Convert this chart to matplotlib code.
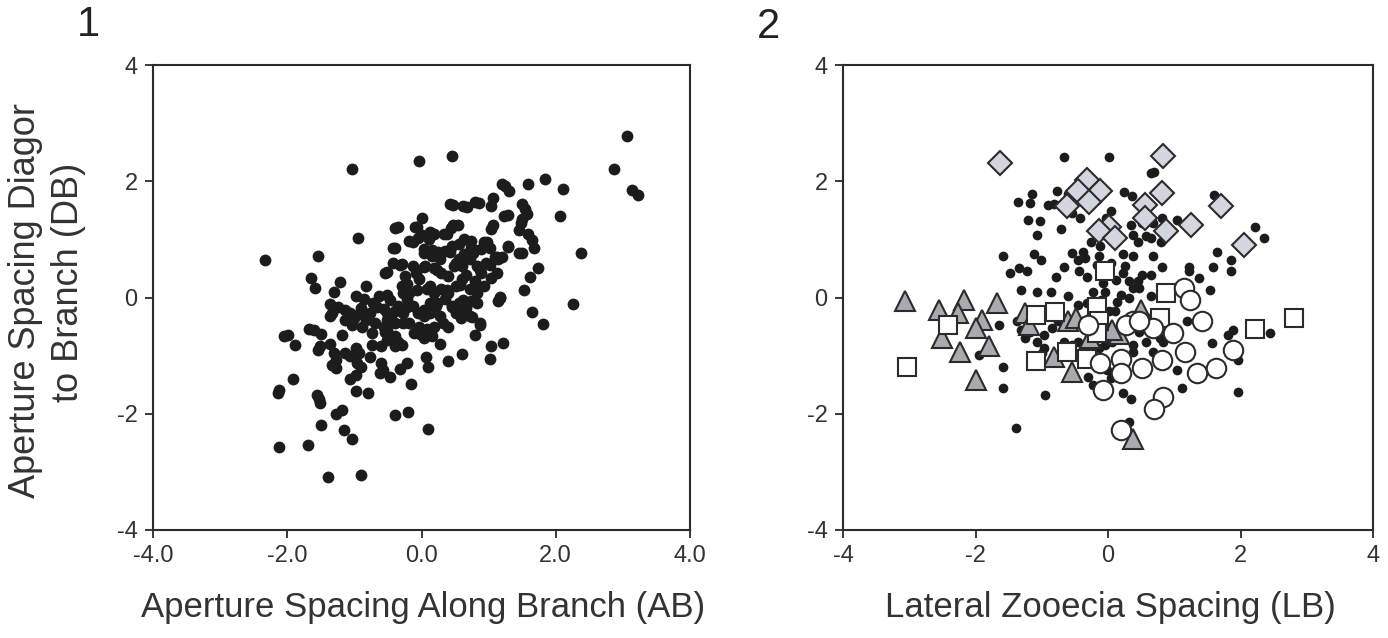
import numpy as np
import matplotlib
matplotlib.use("Agg")
import matplotlib.pyplot as plt

plt.rcParams['font.family'] = ['Liberation Sans', 'DejaVu Sans']
plt.rcParams['axes.unicode_minus'] = False

# ---------------- panel 1: AB vs DB ----------------
ab_db = [
    (3.06, 2.78), (2.87, 2.21), (3.13, 1.85), (3.23, 1.76), (0.46, 2.44), (-0.03, 2.35),
    (-1.04, 2.21), (-2.33, 0.64), (-1.54, 0.71), (-0.94, 1.03), (2.38, 0.76), (2.25, -0.12),
    (1.84, 2.04), (1.59, 1.96), (2.11, 1.87), (2.07, 1.40), (1.20, 1.95), (1.25, 1.92),
    (1.31, 1.84), (1.07, 1.71), (1.04, 1.58), (0.80, 1.64), (0.62, 1.57), (0.43, 1.61),
    (0.47, 1.60), (1.50, 1.61), (1.54, 1.52), (1.57, 1.44), (1.49, 1.35), (1.48, 1.28),
    (1.23, 1.41), (1.07, 1.24), (1.04, 1.18), (0.47, 1.25), (0.44, 1.20), (0.01, 1.36),
    (-0.39, 1.20), (-0.10, 1.22), (0.33, 1.09), (0.12, 1.12), (0.11, 1.00), (1.45, 1.16),
    (1.58, 1.09), (1.64, 0.99), (1.67, 0.85), (1.29, 0.88), (1.45, 0.76), (1.73, 0.51),
    (1.61, 0.36), (1.52, 0.13), (1.09, 0.70), (1.20, 0.70), (0.98, 0.96), (0.73, 0.97),
    (0.74, 0.86), (0.93, 0.95), (0.88, 0.83), (-0.42, 0.85), (-0.19, 0.97), (-0.05, 1.03),
    (-0.42, 0.59), (-0.29, 0.58), (-0.54, 0.43), (-1.65, 0.33), (-1.58, 0.17), (-1.22, 0.26),
    (-1.31, 0.09), (-0.82, 0.19), (-0.97, 0.02), (-0.86, -0.03), (-0.64, 0.03), (-0.51, 0.05),
    (-0.66, -0.17), (-0.56, -0.20), (-1.36, -0.12), (-1.25, -0.16), (-1.33, -0.27), (-1.36, -0.31),
    (-1.14, -0.21), (-1.06, -0.27), (-1.01, -0.35), (-0.93, -0.29), (-0.82, -0.38), (-1.04, -0.47),
    (-1.14, -0.38), (-1.18, -0.64), (-1.99, -0.65), (-2.05, -0.67), (-1.89, -0.81), (-1.68, -0.55),
    (-1.60, -0.56), (-1.49, -0.62), (-1.51, -0.84), (-1.54, -0.90), (-1.36, -0.80), (-1.31, -0.96),
    (-1.28, -1.07), (-1.33, -1.16), (-1.28, -1.22), (-1.14, -0.96), (-1.06, -1.00), (-0.98, -0.87),
    (-0.93, -0.96), (-0.96, -1.13), (-0.90, -1.20), (-0.97, -1.33), (-1.06, -1.41), (-0.74, -0.81),
    (-0.61, -0.84), (-0.77, -1.03), (-0.61, -1.13), (-0.57, -1.24), (-0.62, -1.30), (-0.47, -1.36),
    (-0.54, -0.60), (-0.51, -0.73), (-0.40, -0.67), (-0.35, -0.76), (-0.29, -0.81), (-0.40, -0.84),
    (-0.32, -1.23), (-0.21, -1.13), (-0.16, -1.48), (0.07, -1.03), (0.09, -1.19), (0.27, -0.80),
    (0.39, -1.09), (0.61, -0.97), (0.80, -0.65), (0.87, -0.47), (1.03, -0.83), (1.02, -1.05),
    (1.22, -0.79), (1.14, -0.06), (1.17, 0.01), (1.65, -0.25), (1.81, -0.46), (-1.91, -1.41),
    (-2.13, -1.59), (-2.14, -1.65), (-1.56, -1.68), (-1.53, -1.75), (-1.51, -1.82), (-1.28, -2.01),
    (-1.18, -1.93), (-1.50, -2.20), (-1.16, -2.28), (-1.04, -2.44), (-0.39, -2.03), (-0.20, -1.97),
    (0.09, -2.26), (-0.80, -1.65), (-0.97, -1.61), (-2.12, -2.57), (-1.69, -2.54), (-1.39, -3.09),
    (-0.90, -3.06),
    # dense middle
    (0.03, 0.77), (0.16, 0.71), (0.27, 0.66), (0.05, 0.54), (0.19, 0.51), (0.29, 0.43),
    (0.40, 0.37), (0.48, 0.54), (0.56, 0.66), (0.64, 0.74), (0.72, 0.66), (0.82, 0.54),
    (0.88, 0.43), (0.80, 0.28), (0.72, 0.14), (0.61, 0.31), (0.51, 0.20), (0.40, 0.08),
    (0.29, 0.14), (0.19, 0.08), (0.08, 0.14), (-0.03, 0.31), (-0.08, 0.43), (-0.13, 0.54),
    (-0.24, 0.37), (-0.29, 0.20), (-0.27, 0.08), (-0.21, -0.03), (-0.13, -0.15), (-0.05, -0.27),
    (0.03, -0.32), (0.13, -0.27), (0.21, -0.15), (0.27, -0.32), (0.19, -0.50), (0.08, -0.55),
    (-0.03, -0.50), (-0.11, -0.61), (0.03, -0.70), (0.16, -0.67), (-0.19, -0.44), (-0.27, -0.27),
    (-0.35, -0.15), (-0.40, -0.24), (-0.19, 0.08), (0.13, -0.09), (0.35, -0.03), (0.45, -0.15),
    (0.56, -0.09), (0.66, -0.18), (0.74, -0.06), (0.72, -0.32), (0.59, -0.35), (0.51, -0.27),
    (0.40, -0.50), (0.32, -0.44), (-0.51, -0.38), (-0.45, -0.32), (0.82, 0.08), (0.93, 0.20),
    (1.04, 0.34), (1.12, 0.43), (1.14, 0.66), (0.96, 0.60), (0.61, 0.54), (0.35, 0.80),
    (0.45, 0.89), (0.56, 0.92), (0.64, 1.00), (0.77, 0.77), (0.03, 0.84), (0.13, 0.77),
    (0.24, 0.78), (-0.77, -0.27), (-0.69, -0.44), (-0.88, -0.50), (-0.74, -0.61), (-0.56, -0.50),
    (-0.40, -0.44), (-0.51, -0.27), (-0.72, -0.09), (-0.90, -0.18),
    (0.68, 1.56), (0.85, 1.62), (1.29, 1.42), (-0.35, 1.22), (-0.07, 1.22), (0.00, 1.08),
    (0.18, 1.10), (0.38, 1.10), (0.55, 1.25), (-0.12, 0.96), (-0.39, 0.85), (0.15, 0.82),
    (0.42, 0.79), (0.72, 0.96), (0.80, 0.82), (1.02, 0.85), (1.12, 0.70), (1.29, 0.87),
    (1.49, 0.76), (-0.52, 0.44), (-0.32, 0.56), (0.03, 0.53), (0.23, 0.47), (0.52, 0.59),
    (0.67, 0.39), (0.87, 0.47), (1.02, 0.56), (-0.22, 0.24), (-0.07, 0.13), (0.13, 0.19),
    (0.38, 0.13), (0.57, 0.22), (0.80, 0.16), (-0.47, -0.04), (-0.22, -0.16), (0.03, -0.22),
    (0.23, -0.10), (0.45, -0.16), (0.62, -0.04), (0.82, -0.10), (1.17, -0.01), (-0.52, -0.56),
    (-0.27, -0.44), (-0.02, -0.62), (0.62, -0.27), (0.75, -0.33), (0.87, -0.44),
]
ab = [p[0] for p in ab_db]
db = [p[1] for p in ab_db]

# ---------------- panel 2: LB vs DB, groups ----------------
dots_lb_db = [
    (-0.67, 2.41), (0.02, 2.41), (0.65, 2.14), (0.70, 2.16), (-1.36, 1.64), (-1.14, 1.78),
    (-1.17, 1.63), (-0.91, 1.60), (-0.82, 1.61), (-0.77, 1.83), (-0.61, 1.78), (0.24, 1.81),
    (0.36, 1.74), (-1.21, 1.34), (-1.03, 1.31), (-1.07, 1.08), (-0.71, 1.17), (-0.55, 1.45),
    (-0.43, 1.37), (0.04, 1.48), (-0.03, 1.37), (0.34, 1.25), (0.52, 1.28), (0.68, 1.28),
    (0.81, 1.37), (1.04, 1.34), (0.37, 1.08), (0.57, 1.05), (0.65, 1.02), (1.60, 1.77),
    (2.22, 1.22), (2.36, 1.03), (1.65, 0.79), (1.86, 0.65), (1.86, 0.45), (1.59, 0.53),
    (1.22, 0.53), (1.22, 0.45), (1.37, 0.33), (1.54, 0.13), (-1.58, 0.71), (-1.35, 0.51),
    (-1.48, 0.42), (-1.22, 0.46), (-1.12, 0.74), (-1.01, 0.65), (-0.78, 0.36), (-0.66, 0.53),
    (-0.55, 0.76), (-0.46, 0.65), (-0.37, 0.79), (-0.35, 0.68), (-0.44, 0.45), (-0.32, 0.36),
    (-0.12, 0.88), (-0.14, 0.71), (-0.17, 0.56), (0.22, 0.74), (0.37, 0.71), (0.22, 0.42),
    (0.32, 0.28), (0.45, 0.28), (0.37, 0.16), (0.32, -0.01), (0.68, 0.71), (0.81, 0.53),
    (0.65, 0.39), (0.52, 0.39), (0.65, 0.02), (0.47, 0.16), (-1.32, 0.13), (-1.07, 0.10),
    (-0.86, 0.10), (-0.61, 0.02), (-0.22, 0.10), (-0.04, 0.10), (0.14, -0.07), (0.11, -0.24),
    (0.01, -0.24), (0.06, -0.76), (0.32, -0.41), (0.60, -0.36), (0.58, -0.76), (0.83, -0.76),
    (0.68, -0.93), (1.19, -0.41), (1.04, -1.25), (1.12, -1.56), (1.57, -0.79), (1.81, -0.64),
    (1.89, -0.56), (1.96, -1.07), (1.96, -1.62), (2.45, -0.61), (-1.65, -0.47), (-1.38, -0.41),
    (-1.25, -0.70), (-1.07, -0.76), (-0.96, -0.87), (-0.99, -0.96), (-0.96, -0.64), (-1.94, -0.99),
    (-1.58, -1.19), (-1.58, -1.56), (-0.95, -1.68), (-1.39, -2.24), (-0.30, -1.36), (-0.22, -1.51),
    (-0.02, -1.25), (0.04, -1.39), (0.22, -1.65), (0.34, -1.75), (0.32, -2.14), (0.37, -0.93),
    (-0.45, -0.76), (-0.55, -0.82), (-0.66, -0.76), (-0.32, -0.10), (-0.45, -0.13), (-0.25, -0.30),
    (-0.04, -0.82), (-0.14, -0.87), (-0.25, -0.93), (-1.32, -0.56), (-1.17, -0.59), (-0.84, -0.53),
    (-0.76, -0.41), (0.47, -0.59), (0.37, -0.82), (0.78, -0.70), (0.05, 0.60), (0.12, 0.30),
    (-0.08, 0.25), (0.20, 0.05), (-0.10, -0.05), (0.25, 0.55), (-0.25, 0.95), (0.10, 1.00),
    (0.45, 0.95), (0.80, 0.95),
]
diamonds_lb_db = [
    (-1.63, 2.32), (0.83, 2.44), (-0.32, 2.03), (-0.12, 1.84), (-0.46, 1.84), (-0.29, 1.64),
    (-0.62, 1.57), (0.81, 1.80), (0.56, 1.60), (0.56, 1.37), (1.70, 1.57), (1.25, 1.24),
    (0.88, 1.14), (0.02, 1.22), (-0.14, 1.15), (0.10, 1.02), (2.05, 0.90),
]
triangles_lb_db = [
    (-3.07, -0.06), (-2.55, -0.21), (-2.17, -0.04), (-2.26, -0.27), (-1.67, -0.10), (-1.90, -0.39),
    (-1.99, -0.53), (-2.51, -0.70), (-2.24, -0.93), (-1.79, -0.83), (-2.00, -1.42), (-1.25, -0.27),
    (-1.19, -0.47), (-0.81, -1.02), (-0.61, -0.41), (-0.48, -0.36), (-0.55, -1.28), (-0.27, -0.70),
    (-0.04, -0.53), (0.16, -0.63), (0.50, -0.21), (0.37, -2.43), (0.06, -0.56),
]
squares_lb_db = [
    (-3.04, -1.19), (-2.41, -0.47), (-1.08, -0.30), (-0.80, -0.25), (-1.09, -1.09), (-0.62, -0.93),
    (-0.31, -1.06), (-0.17, -0.16), (-0.14, -0.41), (-0.17, -0.61), (-0.05, 0.45), (0.88, 0.07),
    (0.78, -0.36), (2.22, -0.54), (2.81, -0.36),
]
circles_lb_db = [
    (1.14, 0.16), (1.24, -0.04), (1.42, -0.41), (0.98, -0.61), (1.16, -0.93), (1.88, -0.90),
    (0.81, -1.07), (0.52, -1.22), (1.34, -1.30), (1.63, -1.22), (0.19, -1.05), (0.19, -1.30),
    (-0.07, -1.59), (-0.12, -1.13), (0.83, -1.71), (0.70, -1.91), (0.19, -2.28), (0.37, -0.41),
    (0.68, -0.53), (-0.30, -0.47), (0.27, -0.47), (0.47, -0.41),
]

edge = '#2b2b2b'

fig = plt.figure(figsize=(13.88, 6.38), dpi=100)


def style_axes(ax):
    for s in ax.spines.values():
        s.set_color(edge)
        s.set_linewidth(1.5)
    ax.tick_params(axis='both', direction='out', length=6, width=1.3, color=edge,
                   labelsize=17, labelcolor='#333333', top=False, right=False, pad=5)
    ax.set_xlim(-4, 4)
    ax.set_ylim(-4, 4)
    ax.set_yticks([-4, -2, 0, 2, 4])


ax1 = fig.add_axes([153 / 1388, 1 - 530 / 638, 537 / 1388, 465 / 638])
ax1.plot(ab, db, 'o', ms=8.5, color='#1c1c1c', mec='none')
style_axes(ax1)
ax1.set_xticks([-4, -2, 0, 2, 4])
ax1.set_xticklabels(['-4.0', '-2.0', '0.0', '2.0', '4.0'])

ax2 = fig.add_axes([843 / 1388, 1 - 530 / 638, 530 / 1388, 465 / 638])
d = np.array(dots_lb_db)
ax2.plot(d[:, 0], d[:, 1], 'o', ms=7, color='#1c1c1c', mec='none', zorder=2)
t = np.array(triangles_lb_db)
ax2.plot(t[:, 0], t[:, 1], '^', ms=14, mfc='#a9a9ae', mec=edge, mew=1.5, zorder=3)
sq = np.array(squares_lb_db)
ax2.plot(sq[:, 0], sq[:, 1], 's', ms=13.5, mfc='white', mec=edge, mew=1.5, zorder=4)
c = np.array(circles_lb_db)
ax2.plot(c[:, 0], c[:, 1], 'o', ms=14, mfc='white', mec=edge, mew=1.5, zorder=4)
dm = np.array(diamonds_lb_db)
ax2.plot(dm[:, 0], dm[:, 1], 'D', ms=12.5, mfc='#d3d5df', mec=edge, mew=1.5, zorder=5)
style_axes(ax2)
ax2.set_xticks([-4, -2, 0, 2, 4])

# labels
fig.text(423 / 1388, 1 - 607 / 638, 'Aperture Spacing Along Branch (AB)', fontsize=25,
         ha='center', va='center', color='#333333')
fig.text(1110 / 1388, 1 - 607 / 638, 'Lateral Zooecia Spacing (LB)', fontsize=25,
         ha='center', va='center', color='#333333')
fig.text(26 / 1388, 1 - 301 / 638, 'Aperture Spacing Diagor', fontsize=26, rotation=90,
         ha='center', va='center', color='#333333')
fig.text(68 / 1388, 1 - 282 / 638, 'to Branch (DB)', fontsize=26, rotation=90,
         ha='center', va='center', color='#333333')
fig.text(88 / 1388, 1 - 25 / 638, '1', fontsize=30, ha='center', va='center', color='#222222')
fig.text(768 / 1388, 1 - 27 / 638, '2', fontsize=30, ha='center', va='center', color='#222222')

fig.savefig('out.png', dpi=100)
